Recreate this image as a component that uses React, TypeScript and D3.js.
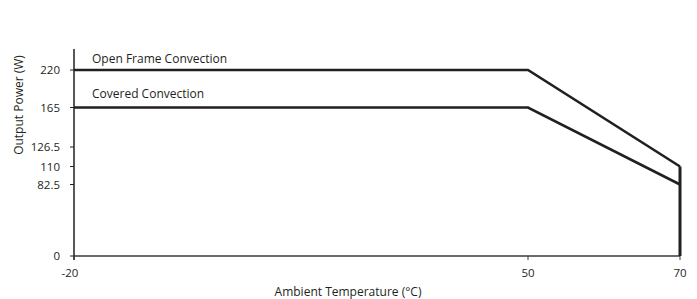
import React from "react";
import * as d3 from "d3";

const temps = [-20, 50, 70];
const openFrame = [220, 220, 110];
const covered = [165, 165, 82.5];
const seriesLabels = ["Open Frame Convection", "Covered Convection"];
const yTicks = [0, 82.5, 110, 126.5, 165, 220];
const yTickLabels = ["0", "82.5", "110", "126.5", "165", "220"];
const xTicks = [-20, 50, 70];
const xTickLabels = ["-20", "50", "70"];

const W = 697;
const H = 299;
const INK = "#231f20";
const FONT = "'Open Sans', 'DejaVu Sans', sans-serif";

export default function App() {
  // schematic (non-uniform) axes, as in the reference drawing
  const x = d3.scaleLinear().domain([-20, 50, 70]).range([74, 528, 680]);
  const y = d3
    .scaleLinear()
    .domain([0, 82.5, 110, 126.5, 165, 220])
    .range([256, 184.5, 166.5, 147, 107.5, 70]);

  const line = d3
    .line<[number, number]>()
    .x((d) => x(d[0]))
    .y((d) => y(d[1]));

  const openPts: [number, number][] = temps.map((t, i) => [t, openFrame[i]]);
  const covPts: [number, number][] = temps.map((t, i) => [t, covered[i]]);
  const lastT = temps[temps.length - 1];
  const dropPts: [number, number][] = [
    [lastT, openFrame[openFrame.length - 1]],
    [lastT, 0],
  ];

  return (
    <svg
      width={W}
      height={H}
      style={{ position: "absolute", left: 0, top: 0, background: "#fff" }}
      fontFamily={FONT}
    >
      {/* axes */}
      <line x1={x(-20)} x2={x(70)} y1={y(0)} y2={y(0)} stroke="#3a3a3a" strokeWidth={1.5} />
      <line x1={x(-20)} x2={x(-20)} y1={49} y2={y(0) + 4} stroke={INK} strokeWidth={1.5} />

      {/* y ticks */}
      {yTicks.map((v, i) => (
        <g key={"y" + i}>
          <line x1={x(-20) - 4} x2={x(-20)} y1={y(v)} y2={y(v)} stroke={INK} strokeWidth={1} />
          <text
            x={60}
            y={y(v)}
            dy="0.35em"
            textAnchor="end"
            fontSize={11.5}
            fill={INK}
          >
            {yTickLabels[i]}
          </text>
        </g>
      ))}

      {/* x ticks */}
      {xTicks.map((v, i) => (
        <g key={"x" + i}>
          <line x1={x(v)} x2={x(v)} y1={y(0)} y2={y(0) + 4} stroke="#3a3a3a" strokeWidth={1} />
          <text
            x={x(v) - (i === 0 ? 4 : 0)}
            y={277}
            textAnchor="middle"
            fontSize={11.5}
            fill={INK}
          >
            {xTickLabels[i]}
          </text>
        </g>
      ))}

      {/* curves */}
      <path d={line(openPts) || ""} fill="none" stroke={INK} strokeWidth={2.6} strokeLinejoin="miter" />
      <path d={line(covPts) || ""} fill="none" stroke={INK} strokeWidth={2.6} strokeLinejoin="miter" />
      <path d={line(dropPts) || ""} fill="none" stroke={INK} strokeWidth={3} />

      {/* series labels */}
      <text x={92} y={y(openFrame[0]) - 7} fontSize={12} fill={INK}>
        {seriesLabels[0]}
      </text>
      <text x={92} y={y(covered[0]) - 10} fontSize={12} fill={INK}>
        {seriesLabels[1]}
      </text>

      {/* axis titles */}
      <text x={348} y={296} textAnchor="middle" fontSize={12} fill={INK}>
        Ambient Temperature (°C)
      </text>
      <text
        transform="translate(23,105) rotate(-90)"
        textAnchor="middle"
        fontSize={12}
        fill={INK}
      >
        Output Power (W)
      </text>
    </svg>
  );
}
